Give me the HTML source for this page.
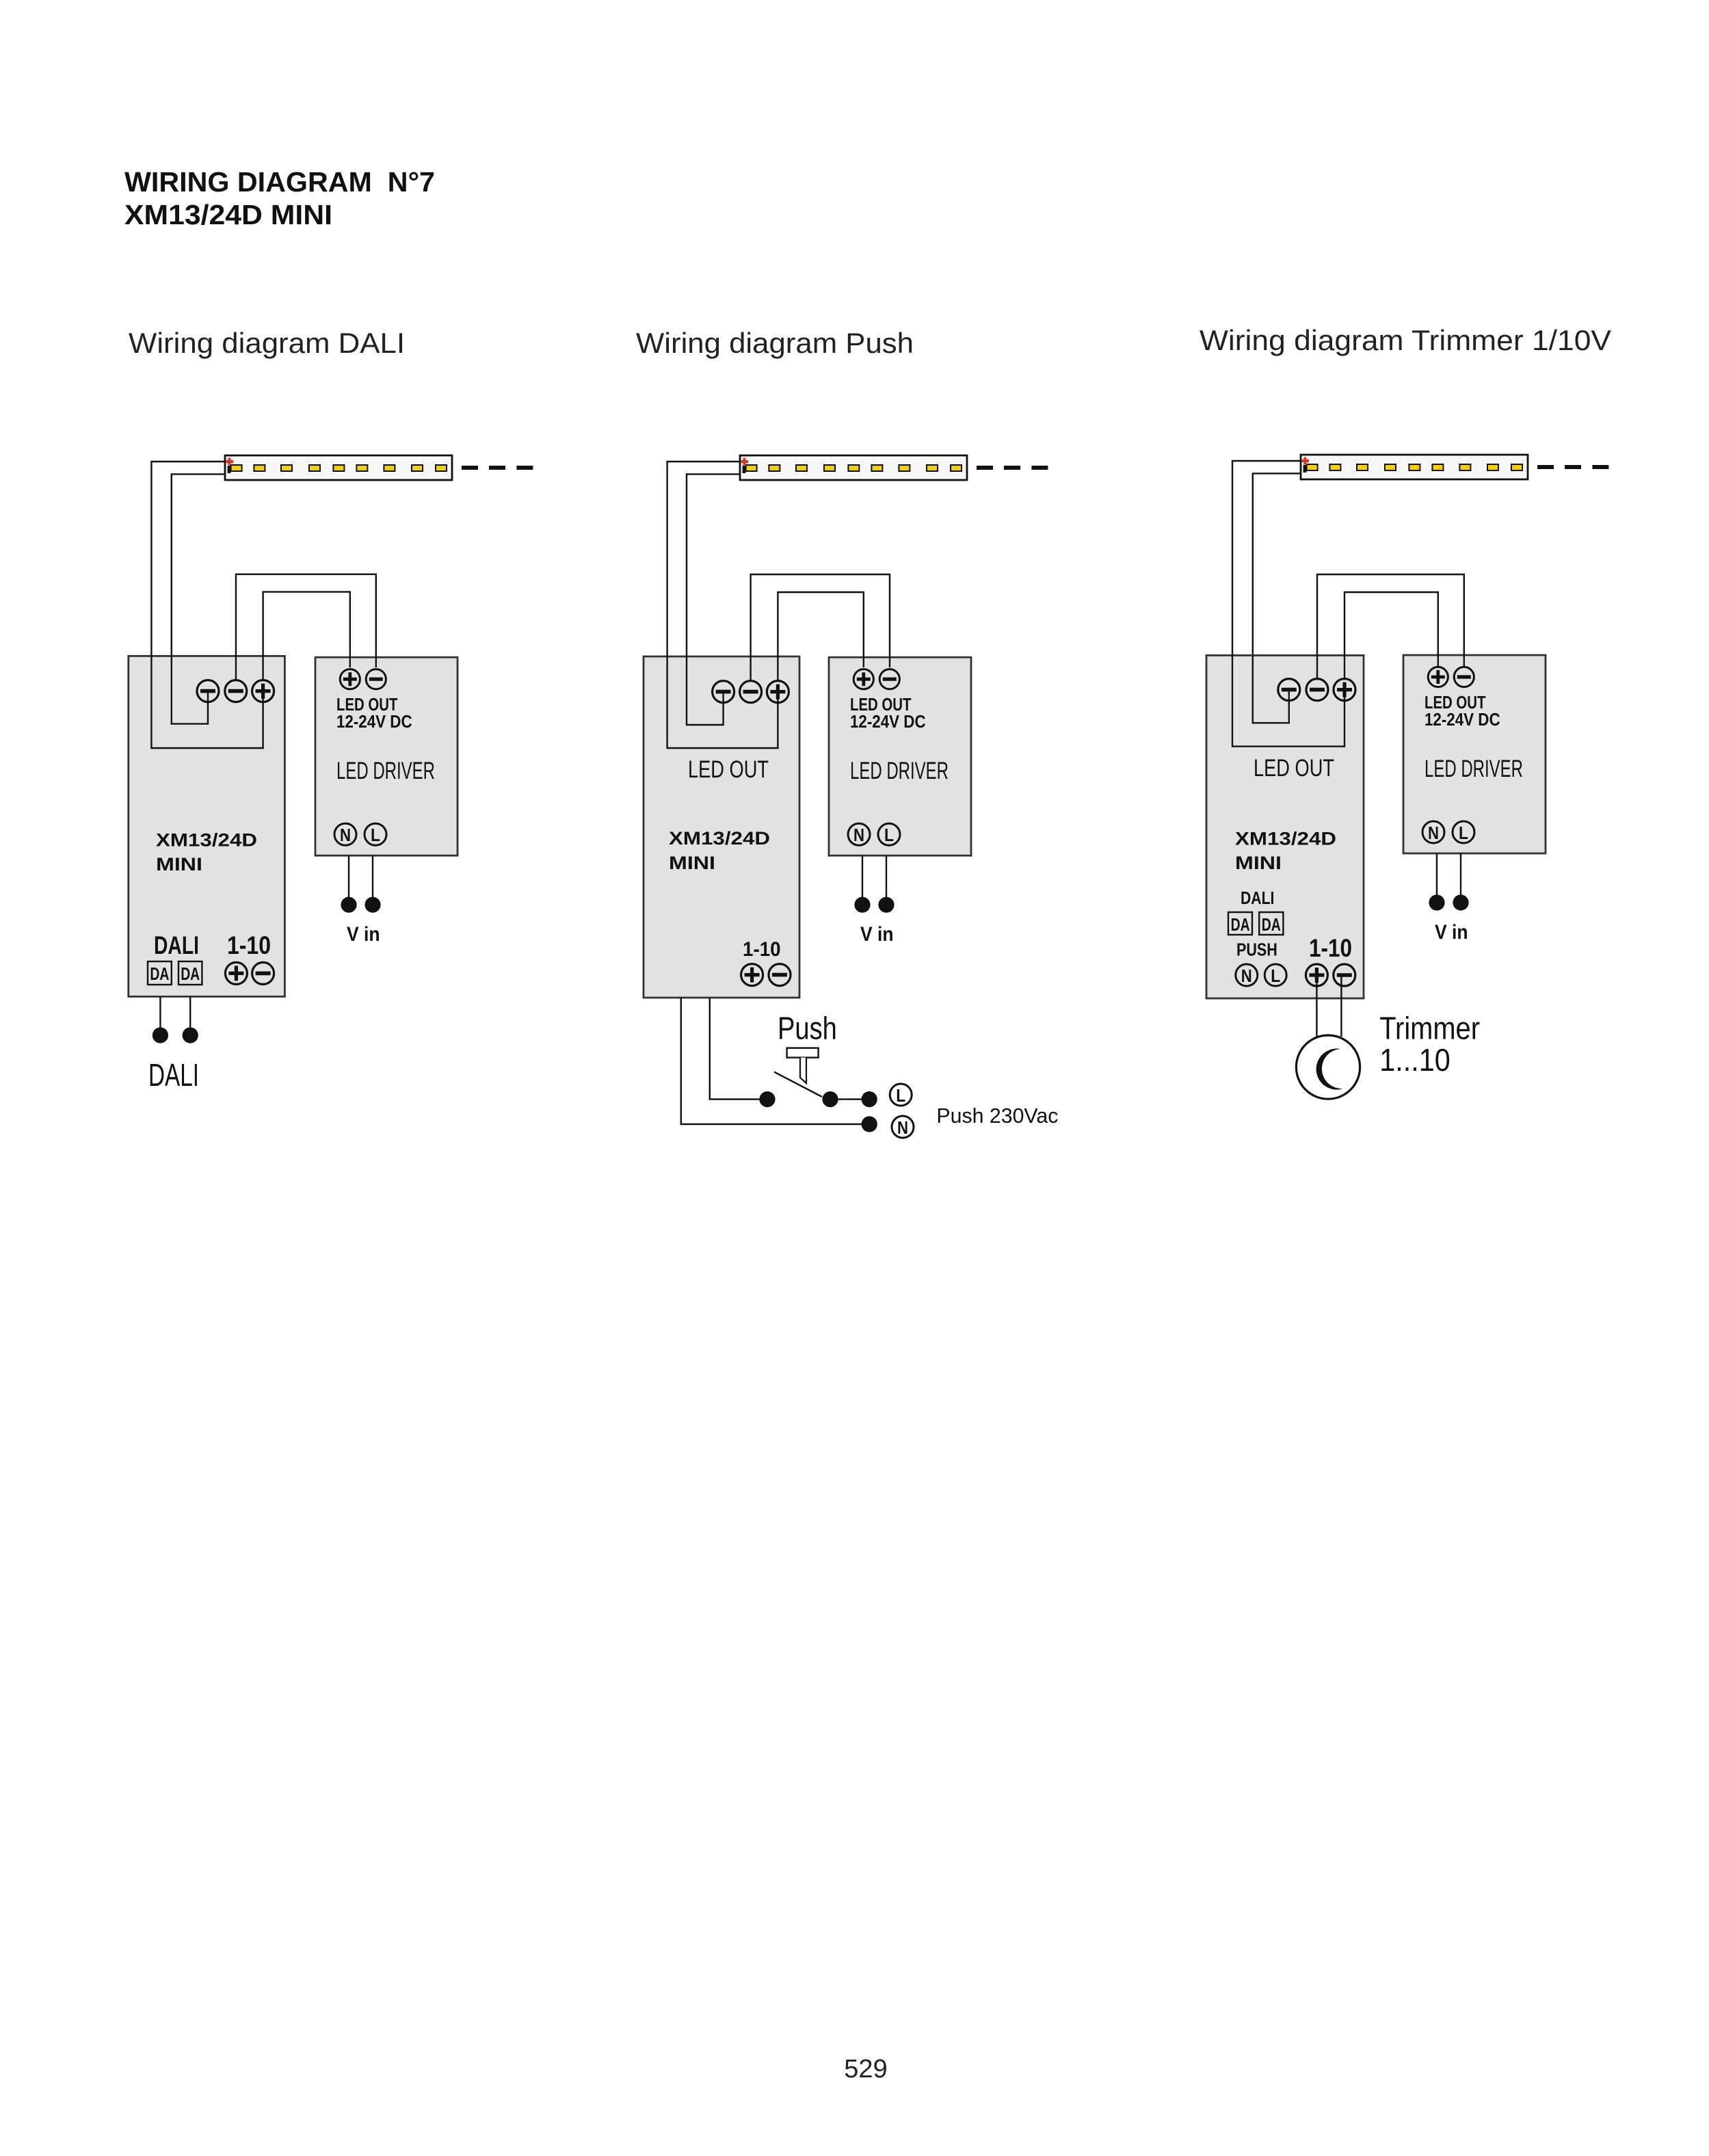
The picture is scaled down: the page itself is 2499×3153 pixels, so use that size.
<!DOCTYPE html>
<html><head><meta charset="utf-8"><style>
html,body{margin:0;padding:0;background:#fff}
svg{display:block}
text{font-family:"Liberation Sans",sans-serif}
.b{font-family:"Liberation Sans",sans-serif;font-weight:bold}
</style></head><body>
<svg width="2499" height="3153" viewBox="0 0 1249.5 1576.5" xmlns="http://www.w3.org/2000/svg">
<defs>
<g id="pl"><circle r="8" fill="none" stroke="#111" stroke-width="1.6"/><path d="M-5.5 0H5.5M0-5.5V5.5" stroke="#111" stroke-width="2.6"/></g>
<g id="mi"><circle r="8" fill="none" stroke="#111" stroke-width="1.6"/><path d="M-5.5 0H5.5" stroke="#111" stroke-width="2.8"/></g>
<g id="pls"><circle r="7.3" fill="none" stroke="#111" stroke-width="1.5"/><path d="M-5 0H5M0-5V5" stroke="#111" stroke-width="2.4"/></g>
<g id="mis"><circle r="7.3" fill="none" stroke="#111" stroke-width="1.5"/><path d="M-5 0H5" stroke="#111" stroke-width="2.6"/></g>
<g id="cN"><circle r="8" fill="none" stroke="#111" stroke-width="1.5"/><text y="5" text-anchor="middle" font-weight="bold" font-size="13" textLength="8" lengthAdjust="spacingAndGlyphs" fill="#111">N</text></g>
<g id="cL"><circle r="8" fill="none" stroke="#111" stroke-width="1.5"/><text y="5" text-anchor="middle" font-weight="bold" font-size="13" textLength="7" lengthAdjust="spacingAndGlyphs" fill="#111">L</text></g>
<g id="strip">
<rect x="0" y="0.5" width="166" height="18" fill="#f7f7f7" stroke="#111" stroke-width="1.4"/>
<g fill="#f5cf00" stroke="#111" stroke-width="1">
<rect x="4.3" y="7.5" width="8" height="4.5"/><rect x="21.2" y="7.5" width="8" height="4.5"/><rect x="41" y="7.5" width="8" height="4.5"/><rect x="61.5" y="7.5" width="8" height="4.5"/><rect x="79.2" y="7.5" width="8" height="4.5"/><rect x="96.2" y="7.5" width="8" height="4.5"/><rect x="116.2" y="7.5" width="8" height="4.5"/><rect x="136.5" y="7.5" width="8" height="4.5"/><rect x="154" y="7.5" width="8" height="4.5"/>
</g>
<path d="M0.5 5H6M3.2 2.3V7.7" stroke="#e0301e" stroke-width="2"/>
<rect x="1.8" y="8" width="2.4" height="5.5" fill="#111"/>
<path d="M173 9.5H185M193 9.5H205M213.2 9.5H225.2" stroke="#111" stroke-width="3"/>
</g>
<g id="drv">
<rect x="0" y="0" width="104" height="145" fill="#e3e1e2" stroke="#333" stroke-width="1.4"/>
<use href="#pls" x="25.4" y="16"/><use href="#mis" x="44.4" y="16"/>
<text x="15.5" y="39" font-weight="bold" font-size="13" textLength="44.7" lengthAdjust="spacingAndGlyphs" fill="#111">LED OUT</text>
<text x="15.5" y="51.5" font-weight="bold" font-size="13" textLength="55.3" lengthAdjust="spacingAndGlyphs" fill="#111">12-24V DC</text>
<text x="15.5" y="89" font-size="17.5" textLength="72" lengthAdjust="spacingAndGlyphs" fill="#111">LED DRIVER</text>
<use href="#cN" x="22" y="129.5"/><use href="#cL" x="44" y="129.5"/>
<path d="M24.5 145V181M42 145V181" stroke="#111" stroke-width="1.2" fill="none"/>
<circle cx="24.5" cy="181" r="5.8" fill="#111"/><circle cx="42" cy="181" r="5.8" fill="#111"/>
<text x="23" y="207.5" font-weight="bold" font-size="15" textLength="24.3" lengthAdjust="spacingAndGlyphs" fill="#111">V in</text>
</g>
</defs>

<text x="91" y="140" class="b" font-size="20.5" textLength="227" lengthAdjust="spacingAndGlyphs" fill="#111" xml:space="preserve">WIRING DIAGRAM  N°7</text>
<text x="91" y="164" class="b" font-size="20.5" textLength="152" lengthAdjust="spacingAndGlyphs" fill="#111">XM13/24D MINI</text>
<text x="94" y="258" font-size="21" textLength="202" lengthAdjust="spacingAndGlyphs" fill="#222">Wiring diagram DALI</text>
<text x="465" y="258" font-size="21" textLength="203" lengthAdjust="spacingAndGlyphs" fill="#222">Wiring diagram Push</text>
<text x="877" y="256" font-size="21" textLength="301" lengthAdjust="spacingAndGlyphs" fill="#222">Wiring diagram Trimmer 1/10V</text>
<text x="633" y="1519" text-anchor="middle" font-size="19" fill="#222">529</text>

<!-- Diagram 1 -->
<rect x="93.9" y="479.7" width="114.3" height="249" fill="#e3e1e2" stroke="#333" stroke-width="1.4"/>
<use href="#drv" x="230.5" y="480.6"/>
<use href="#strip" x="164.5" y="332.5"/>
<g stroke="#111" stroke-width="1.2" fill="none">
<path d="M164.5 337.5H110.7V547H192.3V505"/>
<path d="M164.5 346.7H125.4V529.3H152V505"/>
<path d="M172.5 497V419.9H274.9V488"/>
<path d="M192.3 497V432.8H255.9V488"/>
<path d="M117.2 729V757M139.1 729V757"/>
</g>
<use href="#mi" x="152" y="505.3"/><use href="#mi" x="172.4" y="505.3"/><use href="#pl" x="192.3" y="505.3"/>
<text x="114" y="618.8" class="b" font-size="13.5" textLength="74" lengthAdjust="spacingAndGlyphs" fill="#111">XM13/24D</text>
<text x="114" y="636.4" class="b" font-size="13.5" textLength="34" lengthAdjust="spacingAndGlyphs" fill="#111">MINI</text>
<text x="112.5" y="697.5" font-weight="bold" font-size="18.5" textLength="33" lengthAdjust="spacingAndGlyphs" fill="#111">DALI</text>
<text x="166" y="697.5" font-weight="bold" font-size="18.5" textLength="32" lengthAdjust="spacingAndGlyphs" fill="#111">1-10</text>
<rect x="108" y="703" width="17.4" height="17" fill="none" stroke="#111" stroke-width="1.2"/>
<rect x="130.5" y="703" width="17.2" height="17" fill="none" stroke="#111" stroke-width="1.2"/>
<text x="116.7" y="716.5" text-anchor="middle" font-weight="bold" font-size="13" textLength="14" lengthAdjust="spacingAndGlyphs" fill="#111">DA</text>
<text x="139.1" y="716.5" text-anchor="middle" font-weight="bold" font-size="13" textLength="14" lengthAdjust="spacingAndGlyphs" fill="#111">DA</text>
<use href="#pl" x="172.7" y="711.7"/><use href="#mi" x="192.3" y="711.7"/>
<circle cx="117.2" cy="757" r="5.8" fill="#111"/><circle cx="139.1" cy="757" r="5.8" fill="#111"/>
<text x="108.5" y="794" font-size="23" textLength="37" lengthAdjust="spacingAndGlyphs" fill="#111">DALI</text>

<!-- Diagram 2 -->
<rect x="470.5" y="480" width="114" height="249.5" fill="#e3e1e2" stroke="#333" stroke-width="1.4"/>
<use href="#drv" x="606" y="480.6"/>
<use href="#strip" x="541" y="332.5"/>
<g stroke="#111" stroke-width="1.2" fill="none">
<path d="M541 337.5H487.8V547H568.7V505"/>
<path d="M541 346.7H502V530H528.8V505"/>
<path d="M548.8 497V420H650.5V488"/>
<path d="M568.7 497V433H631.4V488"/>
<path d="M497.9 729.5V822H635.6"/>
<path d="M518.9 729.5V803.8H561"/>
<path d="M607 803.8H635.6"/>
<path d="M566 783.8L601 802"/>
</g>
<use href="#mi" x="528.8" y="505.8"/><use href="#mi" x="548.8" y="505.8"/><use href="#pl" x="568.7" y="505.8"/>
<text x="503" y="568.5" font-size="17.5" textLength="59" lengthAdjust="spacingAndGlyphs" fill="#111">LED OUT</text>
<text x="489" y="617.5" class="b" font-size="13.5" textLength="74" lengthAdjust="spacingAndGlyphs" fill="#111">XM13/24D</text>
<text x="489" y="635.5" class="b" font-size="13.5" textLength="34" lengthAdjust="spacingAndGlyphs" fill="#111">MINI</text>
<text x="543" y="699" font-weight="bold" font-size="15" textLength="27.8" lengthAdjust="spacingAndGlyphs" fill="#111">1-10</text>
<use href="#pl" x="549.8" y="712.8"/><use href="#mi" x="570" y="712.8"/>
<circle cx="561" cy="803.8" r="5.8" fill="#111"/><circle cx="607" cy="803.8" r="5.8" fill="#111"/><circle cx="635.6" cy="803.8" r="5.8" fill="#111"/><circle cx="635.6" cy="822" r="5.8" fill="#111"/>
<rect x="575.3" y="766.3" width="23" height="7" fill="#fff" stroke="#111" stroke-width="1.2"/>
<path d="M585 773.3V788L589.5 792V773.3" fill="#fff" stroke="#111" stroke-width="1.1"/>
<text x="568.5" y="759.7" font-size="23" textLength="43.4" lengthAdjust="spacingAndGlyphs" fill="#111">Push</text>
<use href="#cL" x="658.6" y="800.5"/><use href="#cN" x="660" y="824"/>
<text x="684.7" y="821" font-size="15.5" textLength="89" lengthAdjust="spacingAndGlyphs" fill="#111">Push 230Vac</text>

<!-- Diagram 3 -->
<rect x="882" y="479.2" width="115" height="250.8" fill="#e3e1e2" stroke="#333" stroke-width="1.4"/>
<use href="#drv" x="1026" y="479"/>
<use href="#strip" x="951" y="332"/>
<g stroke="#111" stroke-width="1.2" fill="none">
<path d="M951 337H901V545.8H983V504"/>
<path d="M951 346.2H915.9V528.6H942.4V504"/>
<path d="M963 496V420H1070.4V487"/>
<path d="M983 496V433H1051.4V487"/>
<path d="M962.7 713V758M980.7 713V758"/>
</g>
<use href="#mi" x="942.4" y="504.3"/><use href="#mi" x="963" y="504.3"/><use href="#pl" x="983" y="504.3"/>
<text x="916.5" y="567.6" font-size="17.5" textLength="59" lengthAdjust="spacingAndGlyphs" fill="#111">LED OUT</text>
<text x="903" y="617.7" class="b" font-size="13.5" textLength="74" lengthAdjust="spacingAndGlyphs" fill="#111">XM13/24D</text>
<text x="903" y="635.5" class="b" font-size="13.5" textLength="34" lengthAdjust="spacingAndGlyphs" fill="#111">MINI</text>
<text x="907" y="661" font-weight="bold" font-size="13" textLength="24.7" lengthAdjust="spacingAndGlyphs" fill="#111">DALI</text>
<rect x="898" y="667" width="17.5" height="16.5" fill="none" stroke="#111" stroke-width="1.2"/>
<rect x="920.6" y="667" width="17.6" height="16.5" fill="none" stroke="#111" stroke-width="1.2"/>
<text x="906.8" y="680.5" text-anchor="middle" font-weight="bold" font-size="13" textLength="14" lengthAdjust="spacingAndGlyphs" fill="#111">DA</text>
<text x="929.4" y="680.5" text-anchor="middle" font-weight="bold" font-size="13" textLength="14" lengthAdjust="spacingAndGlyphs" fill="#111">DA</text>
<text x="904" y="698.7" font-weight="bold" font-size="13" textLength="29.9" lengthAdjust="spacingAndGlyphs" fill="#111">PUSH</text>
<text x="957" y="699.5" font-weight="bold" font-size="18.5" textLength="31.5" lengthAdjust="spacingAndGlyphs" fill="#111">1-10</text>
<use href="#cN" x="911.4" y="713"/><use href="#cL" x="932.6" y="713"/>
<use href="#pl" x="962.7" y="713"/><use href="#mi" x="982.9" y="713"/>
<circle cx="971" cy="780.3" r="23.3" fill="#fff" stroke="#111" stroke-width="1.6"/>
<path d="M980 767 A15 15 0 1 0 982 796 A12 12 0 1 1 980 767Z" fill="#111"/>
<text x="1008.6" y="759.7" font-size="23" textLength="73.4" lengthAdjust="spacingAndGlyphs" fill="#111">Trimmer</text>
<text x="1008.6" y="782.9" font-size="23" textLength="51.8" lengthAdjust="spacingAndGlyphs" fill="#111">1...10</text>
</svg>
</body></html>
